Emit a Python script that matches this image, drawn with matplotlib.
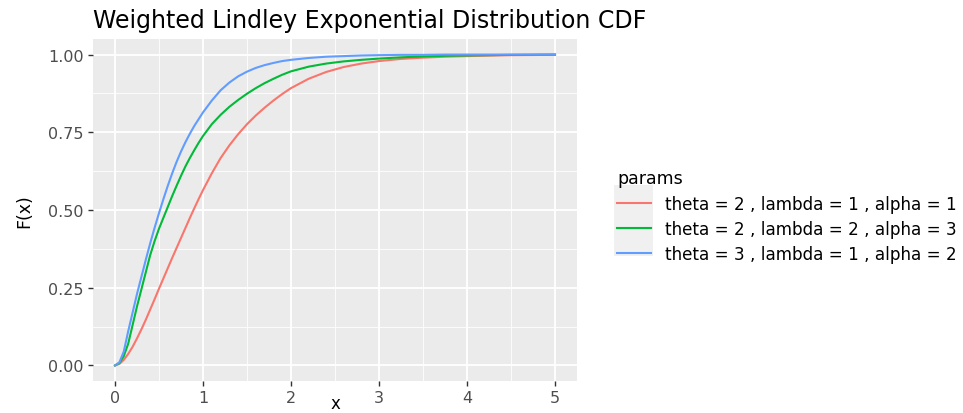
import matplotlib
matplotlib.use("Agg")
import matplotlib.pyplot as plt
from matplotlib.patches import Rectangle

# CDF values read at these x positions
x = [0, 0.05, 0.1, 0.15, 0.2, 0.25, 0.3, 0.35, 0.4, 0.45, 0.5, 0.55, 0.6, 0.65,
     0.7, 0.75, 0.8, 0.85, 0.9, 0.95, 1.0, 1.1, 1.2, 1.3, 1.4, 1.5, 1.6, 1.7,
     1.8, 1.9, 2.0, 2.2, 2.4, 2.6, 2.8, 3.0, 3.25, 3.5, 3.75, 4.0, 4.5, 5.0]
cdf_t2_l1_a1 = [0, 0.005, 0.018, 0.037, 0.06, 0.087, 0.116, 0.147, 0.18, 0.213,
                0.247, 0.28, 0.313, 0.346, 0.378, 0.41, 0.442, 0.474, 0.505,
                0.535, 0.564, 0.618, 0.667, 0.708, 0.744, 0.776, 0.804, 0.829,
                0.852, 0.873, 0.892, 0.922, 0.944, 0.96, 0.971, 0.979, 0.986,
                0.99, 0.993, 0.995, 0.998, 0.999]
cdf_t2_l2_a3 = [0, 0.008, 0.03, 0.07, 0.13, 0.19, 0.245, 0.30, 0.355, 0.40,
                0.44, 0.475, 0.51, 0.545, 0.578, 0.61, 0.64, 0.667, 0.692,
                0.716, 0.738, 0.776, 0.806, 0.832, 0.854, 0.874, 0.892, 0.908,
                0.922, 0.935, 0.946, 0.961, 0.971, 0.978, 0.983, 0.987, 0.991,
                0.994, 0.996, 0.997, 0.999, 1.0]
cdf_t3_l1_a2 = [0, 0.01, 0.045, 0.11, 0.17, 0.23, 0.285, 0.34, 0.393, 0.443,
                0.49, 0.535, 0.578, 0.618, 0.655, 0.688, 0.718, 0.745, 0.77,
                0.792, 0.814, 0.852, 0.885, 0.91, 0.93, 0.945, 0.957, 0.966,
                0.973, 0.979, 0.983, 0.989, 0.993, 0.995, 0.997, 0.998, 0.999,
                0.999, 1.0, 1.0, 1.0, 1.0]

labels = ["theta = 2 , lambda = 1 , alpha = 1",
          "theta = 2 , lambda = 2 , alpha = 3",
          "theta = 3 , lambda = 1 , alpha = 2"]
colors = ["#F8766D", "#00BA38", "#619CFF"]

plt.rcParams['font.family'] = ['DejaVu Sans']

fig = plt.figure(figsize=(9.63, 4.14), dpi=100)
W, H = 963, 414
ax = fig.add_axes([93 / W, 1 - 382 / H, (577 - 93) / W, (382 - 40) / H])

ax.set_facecolor("#EBEBEB")
for s in ax.spines.values():
    s.set_visible(False)

lines = []
for ys, c, lab in zip([cdf_t2_l1_a1, cdf_t2_l2_a3, cdf_t3_l1_a2], colors, labels):
    ln, = ax.plot(x, ys, color=c, lw=1.5, label=lab, solid_joinstyle="round")
    lines.append(ln)

ax.set_xlim(-0.25, 5.25)
ax.set_ylim(-0.05, 1.05)
ax.set_xticks([0, 1, 2, 3, 4, 5])
ax.set_yticks([0, 0.25, 0.5, 0.75, 1.0])
ax.set_yticklabels(["0.00", "0.25", "0.50", "0.75", "1.00"])
ax.set_xticks([0.5, 1.5, 2.5, 3.5, 4.5], minor=True)
ax.set_yticks([0.125, 0.375, 0.625, 0.875], minor=True)
ax.grid(which="major", color="white", lw=1.3)
ax.grid(which="minor", color="white", lw=0.6)
ax.set_axisbelow(True)
ax.tick_params(which="major", length=3.5, width=1, color="#333333",
               labelcolor="#4D4D4D", labelsize=11.5, pad=3)
ax.tick_params(which="minor", length=0)

ax.set_xlabel("x", fontsize=12)
ax.xaxis.label.set_va("bottom")
ax.xaxis.set_label_coords(0.5, -(413 - 382) / 342)
ax.set_ylabel("F(x)", fontsize=12.5, labelpad=11)
fig.text(93 / W, 1 - 28 / H, "Weighted Lindley Exponential Distribution CDF",
         fontsize=17, ha="left", va="baseline")

# legend
fig.add_artist(Rectangle((614 / W, 1 - 257 / H), 39 / W, 71 / H,
                         transform=fig.transFigure, facecolor="#F0F0F0",
                         edgecolor="none", zorder=0))
leg = fig.legend(handles=lines, loc="upper left",
                 bbox_to_anchor=(604 / W, 1 - 157 / H),
                 frameon=False, fontsize=12.1, title="params", title_fontsize=12.5,
                 handlelength=2.0, handletextpad=0.85, labelspacing=0.42,
                 borderpad=0.3)
leg._legend_box.align = "left"

fig.savefig("out.png", dpi=100)
